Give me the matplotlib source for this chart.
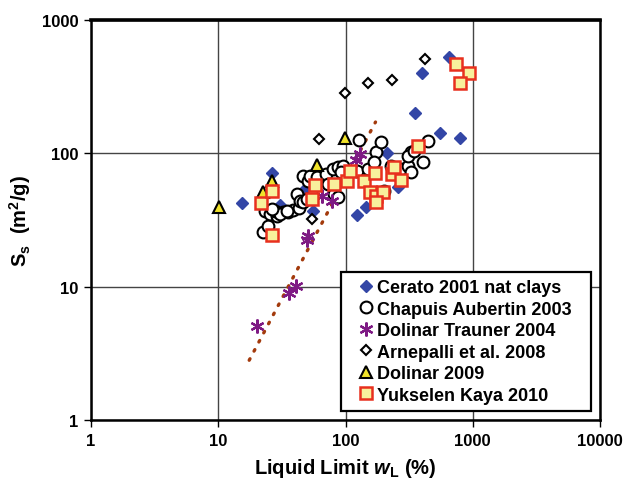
import numpy as np
import matplotlib
matplotlib.use("Agg")
import matplotlib.pyplot as plt

plt.rcParams['font.family'] = ['Liberation Sans', 'DejaVu Sans']
plt.rcParams['font.weight'] = 'bold'
plt.rcParams['mathtext.fontset'] = 'custom'
plt.rcParams['mathtext.rm'] = 'Liberation Sans:bold'
plt.rcParams['mathtext.it'] = 'Liberation Sans:bold:italic'
plt.rcParams['mathtext.bf'] = 'Liberation Sans:bold'

# Cerato 2001 nat clays
cerato_wl = [15.4, 26.6, 30.8, 49.3, 56, 124, 146, 210, 257, 349, 397, 550, 647, 790]
cerato_ss = [42.5, 71, 41, 55, 37, 34.5, 39.6, 100, 56, 201, 401, 142, 529, 130]

# Chapuis Aubertin 2003
chapuis_wl = [22.6, 24.8, 23.4, 25.7, 29.1, 32.5, 35.6, 39.0, 42.7, 41.9, 44.2,
              46.7, 51.1, 53.0, 60.2, 69.6, 79.0, 86.5, 94.7, 91.4, 72.2, 80.5,
              86.5, 45.9, 50.2, 124, 149, 172, 166, 127, 189, 226, 271, 308,
              325, 308, 343, 404, 442, 199, 166, 325, 28.1, 30.8, 26.6, 34.9]
chapuis_ss = [25.7, 28.5, 37, 35.1, 33.9, 36.3, 36.3, 37.6, 39, 49.6, 44,
              67.6, 62, 67.6, 66.5, 70, 76, 79, 80, 72.5, 59, 49.6,
              47, 43.2, 45.5, 74, 76, 102, 86, 126, 122, 80, 76, 80,
              102, 96, 104, 86, 124, 52, 49.6, 72.5, 37, 35.1, 38.3, 37]

# Dolinar Trauner 2004
trauner_wl = [20.3, 36.2, 41.1, 50.2, 51.1, 65.9, 77.6, 120, 131]
trauner_ss = [5.07, 8.97, 10.1, 22.4, 24, 47.9, 44, 89, 99]

# Arnepalli et al. 2008
arnepalli_wl = [62.4, 98.2, 149, 230, 419, 55]
arnepalli_ss = [128, 284, 337, 355, 511, 32.2]

# Dolinar 2009
dolinar_wl = [10.2, 22.6, 26.6, 60.2, 98.2]
dolinar_ss = [39.6, 51.3, 62, 81.8, 131]

# Yukselen Kaya 2010
yuk_wl = [21.8, 26.6, 26.6, 55, 58, 80.5, 102, 109, 139, 169, 157, 175, 196,
          175, 230, 239, 271, 369, 735, 930, 790]
yuk_ss = [42.5, 52.2, 24.4, 45.5, 58, 59, 62, 74, 62, 71.3, 51.3, 47.9, 51.3,
          43.2, 70, 79, 63, 114, 469, 401, 337]

# power-law trend line through the Dolinar Trauner data
trend_coef = 0.01625
trend_exp = 1.8
trend_range = (17.5, 172)

fig = plt.figure(figsize=(6.29, 4.81), dpi=100)
ax = fig.add_axes([0.1447, 0.1247, 0.8093, 0.8316])
ax.set_xscale('log')
ax.set_yscale('log')
ax.set_xlim(1, 10000)
ax.set_ylim(1, 1000)

ax.grid(True, which='major', color='#444444', linewidth=1.0)
ax.set_axisbelow(True)

tx = np.logspace(np.log10(trend_range[0]), np.log10(trend_range[1]), 60)
ax.plot(tx, trend_coef * tx ** trend_exp, linestyle=(0, (0.5, 2.6)),
        color='#a33a0c', linewidth=2.4, dash_capstyle='round', zorder=2)

ax.plot(cerato_wl, cerato_ss, linestyle='none', marker='D', markersize=6.2,
        color='#3346a6', markeredgecolor='#3346a6', label='Cerato 2001 nat clays', zorder=3)
ax.plot(chapuis_wl, chapuis_ss, linestyle='none', marker='o', markersize=8.5,
        markerfacecolor='white', markeredgecolor='black', markeredgewidth=1.5,
        label='Chapuis Aubertin 2003', zorder=3)
ax.plot(trauner_wl, trauner_ss, linestyle='none', marker=(6, 2, 0), markersize=10,
        color='#7e1a84', markeredgewidth=1.6, label='Dolinar Trauner 2004', zorder=4)
ax.plot(arnepalli_wl, arnepalli_ss, linestyle='none', marker='D', markersize=5.5,
        markerfacecolor='white', markeredgecolor='black', markeredgewidth=1.5,
        label='Arnepalli et al. 2008', zorder=3)
ax.plot(dolinar_wl, dolinar_ss, linestyle='none', marker='^', markersize=9,
        markerfacecolor='#f0e22a', markeredgecolor='black', markeredgewidth=1.5,
        label='Dolinar 2009', zorder=3)
ax.plot(yuk_wl, yuk_ss, linestyle='none', marker='s', markersize=8.5,
        markerfacecolor='#f8f09c', markeredgecolor='#e8301e', markeredgewidth=1.8,
        label='Yukselen Kaya 2010', zorder=5)

ax.set_xticks([1, 10, 100, 1000, 10000])
ax.set_xticklabels(['1', '10', '100', '1000', '10000'])
ax.set_yticks([1, 10, 100, 1000])
ax.set_yticklabels(['1', '10', '100', '1000'])
ax.minorticks_off()
ax.tick_params(axis='both', which='major', labelsize=12, length=5, width=1,
               direction='out', pad=4)
for lab in ax.get_xticklabels() + ax.get_yticklabels():
    lab.set_fontweight('bold')

for side in ['left', 'bottom', 'right']:
    ax.spines[side].set_linewidth(1.8)
ax.spines['top'].set_linewidth(2.6)

ax.set_xlabel(r'Liquid Limit $w_{\mathrm{L}}$ (%)', fontsize=14.5, fontweight='bold', labelpad=6)
ax.set_ylabel(r'$\mathrm{S_s}$  (m$^{2}$/g)', fontsize=14.5, fontweight='bold')
ax.yaxis.set_label_coords(-0.114, 0.5)

leg = ax.legend(loc='lower left', bbox_to_anchor=(0.491, 0.0225, 0.491, 0.35),
                mode='expand', frameon=True, fancybox=False, framealpha=1,
                edgecolor='black', handlelength=2.0, handletextpad=-0.4,
                labelspacing=0.25, borderpad=0.4,
                prop={'weight': 'bold', 'size': 13}, borderaxespad=0)
leg.get_frame().set_linewidth(1.6)

fig.savefig('out.png', dpi=100)
